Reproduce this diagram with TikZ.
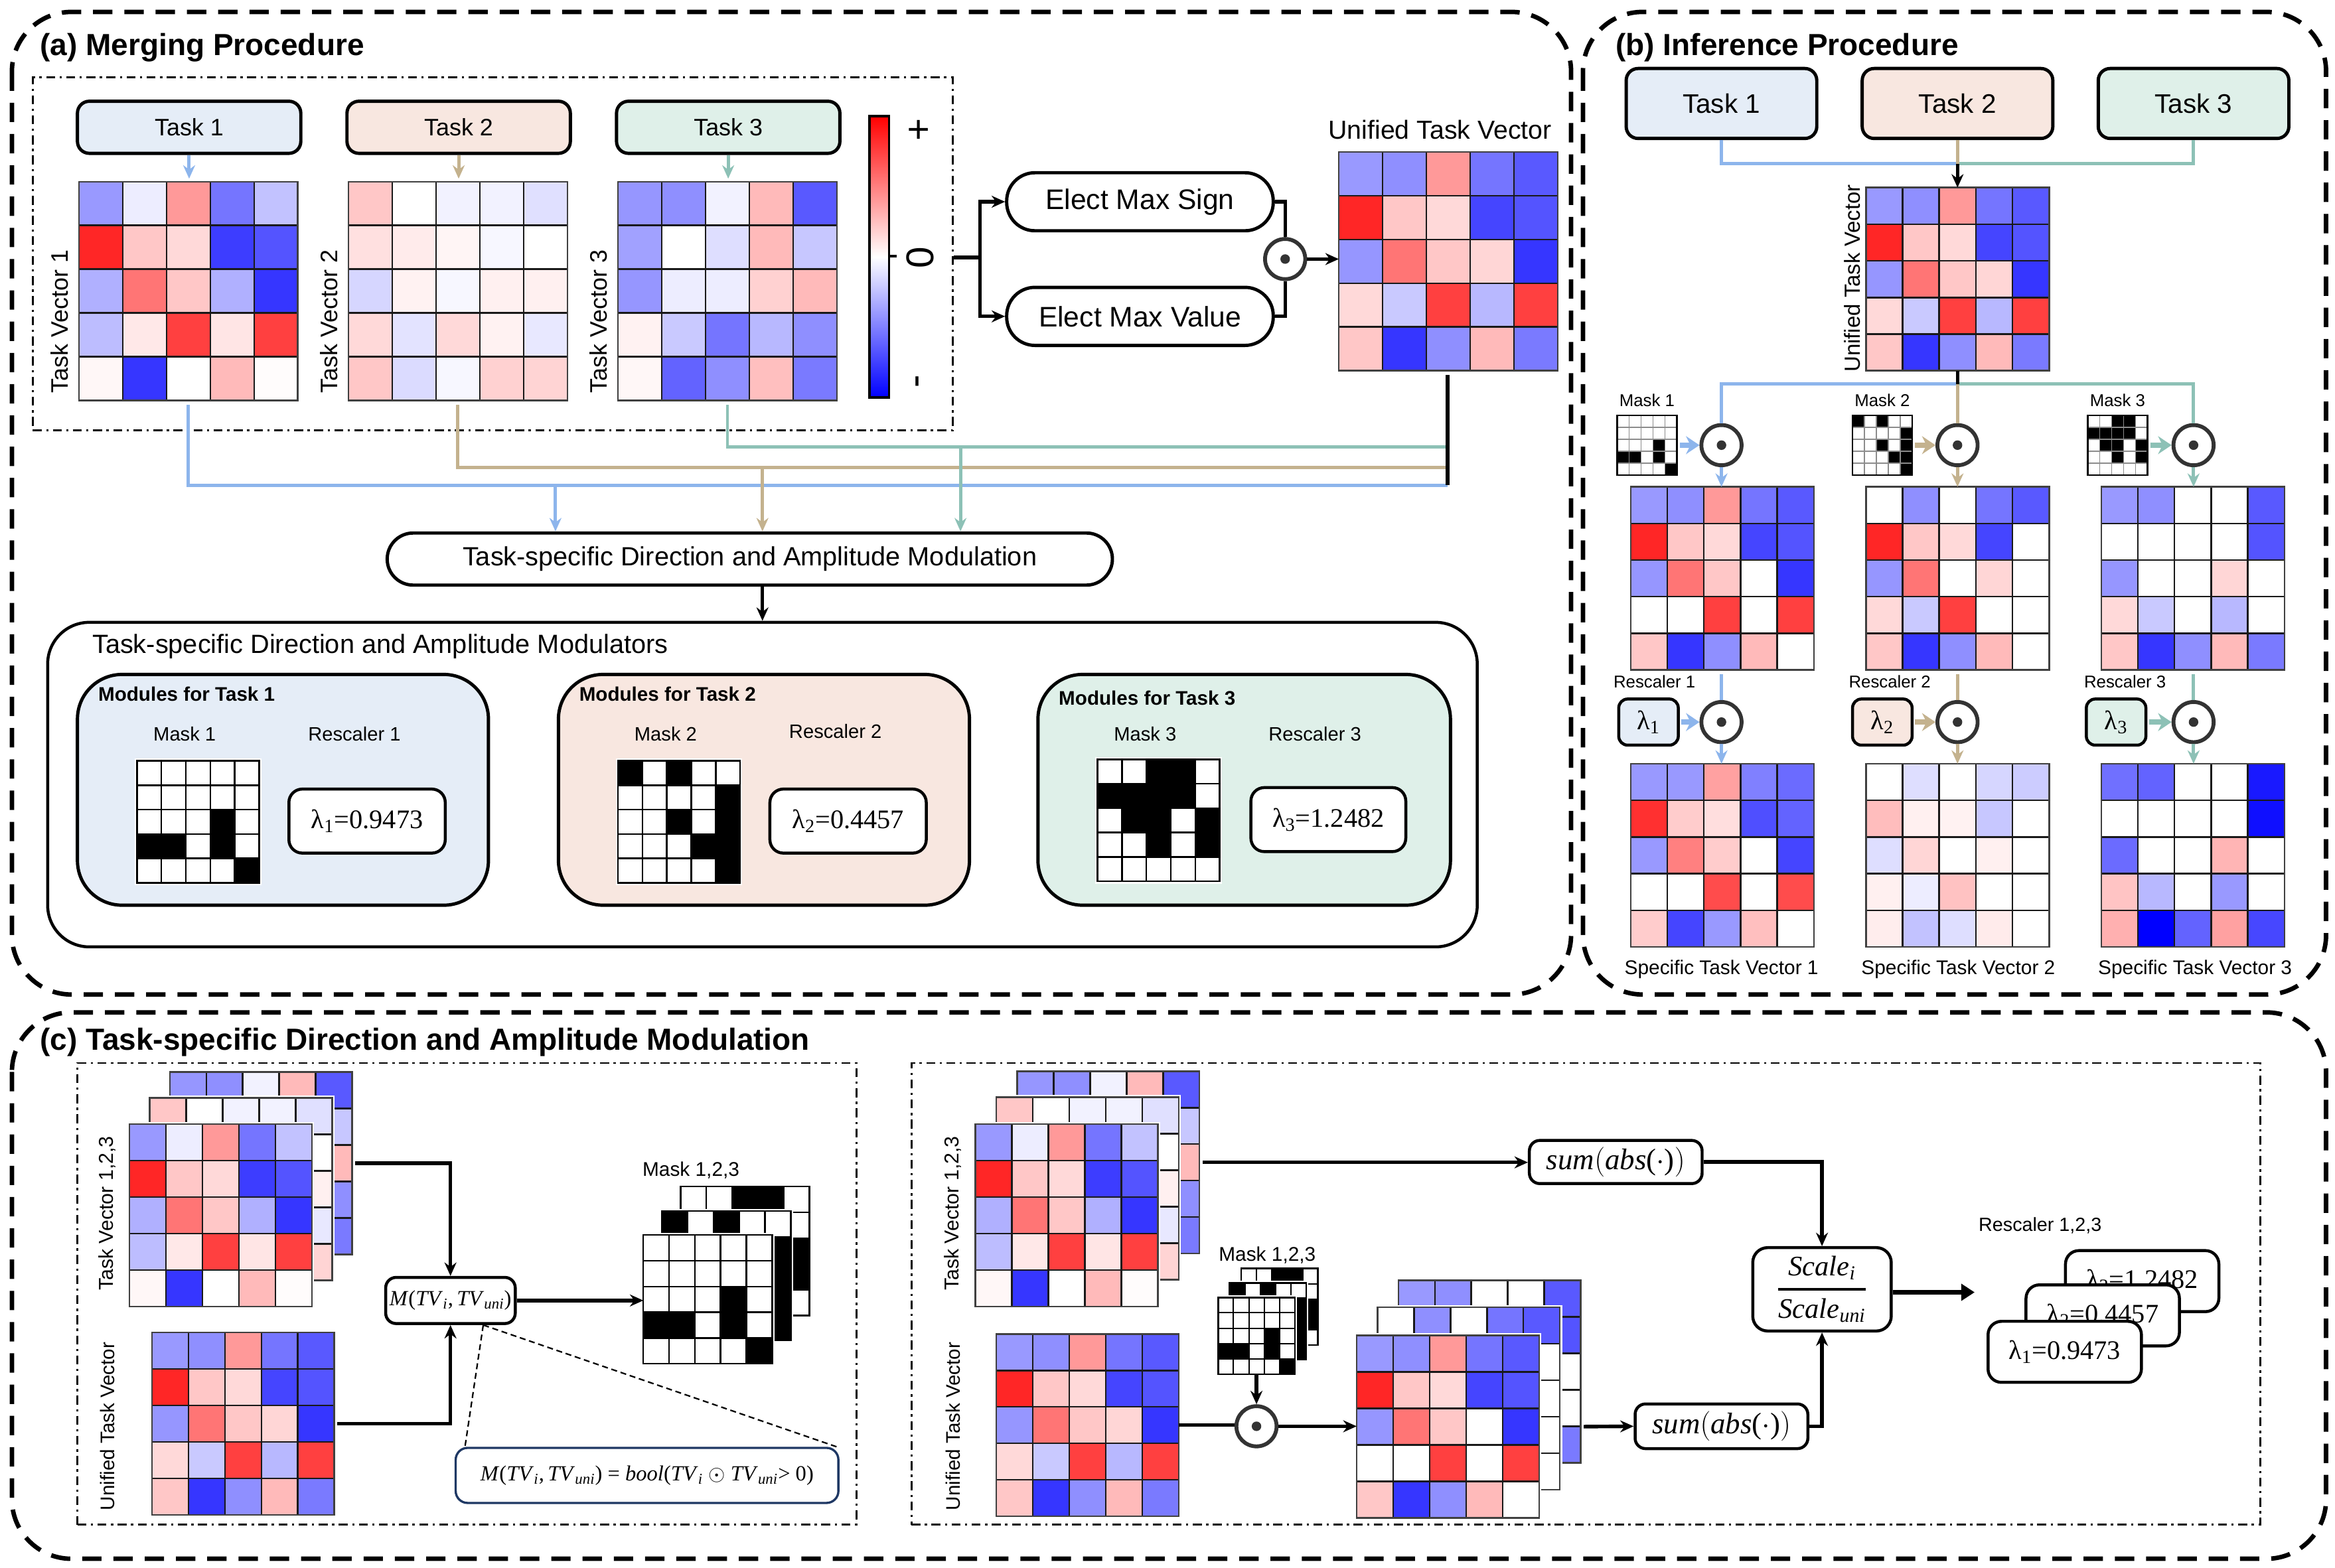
\RequirePackage{fix-cm}
\documentclass[tikz,border=0pt]{standalone}
\usepackage[no-math]{fontspec}
\setmainfont{Liberation Sans}
\newfontfamily\lserif{Liberation Serif}
\usetikzlibrary{arrows.meta,calc}

\definecolor{lnblue}{RGB}{141,181,236}
\definecolor{lntan}{RGB}{196,178,142}
\definecolor{lnteal}{RGB}{141,193,182}
\definecolor{fblue}{RGB}{229,237,247}
\definecolor{fpeach}{RGB}{248,231,224}
\definecolor{fmint}{RGB}{223,240,233}
\definecolor{navy}{RGB}{31,56,100}
\definecolor{odgray}{RGB}{51,51,51}

\newcommand{\fsz}[1]{\fontsize{#1}{#1}\selectfont}
\newcommand{\vi}[1]{\textit{#1}}
\newcommand{\MTV}{\vi{M}(\vi{TV}\textsubscript{\vi{i}},\,\vi{TV}\textsubscript{\vi{uni}})}
\newcommand{\SUMABS}{\vi{sum}$\big($\vi{abs}($\cdot$)$\big)$}

% data
\newcommand{\DTVa}{-40,-7,40,-54,-24,85,22,15,-76,-67,-31,54,22,-31,-79,-26,9,75,10,75,3,-79,0,27,1}
\newcommand{\DTVb}{22,0,-5,-5,-12,12,8,4,-3,0,-16,5,-3,6,6,15,-11,15,5,-9,22,-14,-3,18,17}
\newcommand{\DTVc}{-41,-44,-5,27,-65,-37,0,-13,27,-22,-41,-7,-7,18,27,5,-21,-54,-28,-44,3,-61,-44,25,-52}
\newcommand{\DUNI}{-40,-44,40,-54,-65,85,22,15,-73,-67,-41,54,22,16,-79,15,-21,75,-28,75,22,-79,-44,27,-52}
\newcommand{\DRa}{-40,-44,40,-54,-65,85,22,15,-73,-67,-41,54,22,0,-79,0,0,75,0,75,22,-79,-44,27,0}
\newcommand{\DRb}{0,-44,0,-54,-65,85,22,15,-73,0,-41,54,0,16,0,15,-21,75,0,0,22,-79,-44,27,0}
\newcommand{\DRc}{-40,-44,0,0,-65,0,0,0,0,-67,-41,0,0,16,0,15,-21,0,-28,0,22,-79,-44,27,-52}
\newcommand{\DFa}{-40,-40,37,-50,-58,81,20,13,-69,-61,-40,50,20,0,-73,0,0,70,0,70,20,-73,-40,25,0}
\newcommand{\DFb}{0,-13,0,-16,-20,26,6,5,-22,0,-13,16,0,6,0,6,-7,24,0,0,7,-24,-13,8,0}
\newcommand{\DFc}{-56,-61,0,0,-90,0,0,0,0,-94,-58,0,0,29,0,23,-28,0,-40,0,31,-100,-61,37,-72}
\newcommand{\DMa}{0,0,0,0,0,0,0,0,0,0,0,0,0,1,0,1,1,0,1,0,0,0,0,0,1}
\newcommand{\DMb}{1,0,1,0,0,0,0,0,0,1,0,0,1,0,1,0,0,0,1,1,0,0,0,0,1}
\newcommand{\DMc}{0,0,1,1,0,1,1,1,1,0,0,1,1,0,1,0,0,1,0,1,0,0,0,0,0}

% heatmap: name, left, top, cell, data macro
\newcommand{\heat}[5]{%
  \fill[white] ({#2-1.5},{#3-1.5}) rectangle ({#2+5*#4+1.5},{#3+5*#4+1.5});
  \foreach \v [count=\k from 0] in #5 {%
    \pgfmathtruncatemacro\hmr{floor(\k/5)}%
    \pgfmathtruncatemacro\hmc{\k-5*\hmr}%
    \pgfmathtruncatemacro\hma{abs(\v)}%
    \ifnum\v<0 \def\hmhue{blue}\else\def\hmhue{red}\fi
    \fill[\hmhue!\hma!white] ({#2+\hmc*#4},{#3+\hmr*#4}) rectangle +({#4},{#4});
  }
  \foreach \i in {0,...,5}{%
    \draw[cellline] ({#2+\i*#4},{#3}) -- ({#2+\i*#4},{#3+5*#4});
    \draw[cellline] ({#2},{#3+\i*#4}) -- ({#2+5*#4},{#3+\i*#4});
  }
  \node[matbox, minimum width={5*#4pt}, minimum height={5*#4pt}] (#1) at ({#2+2.5*#4},{#3+2.5*#4}) {};
}
% mask: name, left, top, cell, data macro, line style
\newcommand{\maskm}[6]{%
  \fill[white] ({#2-1.5},{#3-1.5}) rectangle ({#2+5*#4+1.5},{#3+5*#4+1.5});
  \foreach \v [count=\k from 0] in #5 {%
    \pgfmathtruncatemacro\hmr{floor(\k/5)}%
    \pgfmathtruncatemacro\hmc{\k-5*\hmr}%
    \ifnum\v=1 \fill[black] ({#2+\hmc*#4},{#3+\hmr*#4}) rectangle +({#4},{#4});\fi
  }
  \foreach \i in {0,...,5}{%
    \draw[#6] ({#2+\i*#4},{#3}) -- ({#2+\i*#4},{#3+5*#4});
    \draw[#6] ({#2},{#3+\i*#4}) -- ({#2+5*#4},{#3+\i*#4});
  }
  \node[matbox, draw=black, minimum width={5*#4pt}, minimum height={5*#4pt}] (#1) at ({#2+2.5*#4},{#3+2.5*#4}) {};
}

\tikzset{
 cellline/.style={line width=1.1pt, draw=black!90},
 matbox/.style={draw=black!75, line width=1.1pt, inner sep=0pt, outer sep=0pt},
 panel/.style={draw, line width=3pt, dash pattern=on 13pt off 8pt, rounded corners=40pt},
 dashdot/.style={draw, line width=1.3pt, dash pattern=on 6pt off 3pt on 1.5pt off 3pt, inner sep=0pt},
 tbox/.style={draw, line width=2.2pt, rounded corners=8pt, inner sep=0pt},
 pill/.style={draw, line width=2.2pt, rounded corners=19pt, inner sep=0pt, fill=white},
 modbox/.style={draw, line width=2.2pt, rounded corners=28pt, inner sep=0pt},
 lbox/.style={draw, line width=2pt, rounded corners=9pt, fill=white, inner sep=0pt},
 odot/.style={circle, draw=odgray, line width=2.6pt, minimum size=27pt, inner sep=0pt, fill=white,
   path picture={\fill[odgray] (path picture bounding box.center) circle (3.2pt);}},
 blk/.style={draw=black, line width=2.4pt},
 cB/.style={draw=lnblue, line width=2.2pt},
 cT/.style={draw=lntan, line width=2.2pt},
 cG/.style={draw=lnteal, line width=2.2pt},
 arw/.style={-{Stealth[length=9pt,width=8pt]}},
 thickarw/.style={-{Stealth[length=9pt,width=12pt]}, line width=3.5pt},
 lab/.style={inner sep=0pt, outer sep=0pt},
}

\begin{document}
\begin{tikzpicture}[x=1pt,y=-1pt]
\useasboundingbox (0,0) rectangle (1568,1053);

% ===== panel frames
\draw[panel] (8,8) rectangle (1055,668);
\draw[panel] (1063,8) rectangle (1562,668);
\draw[panel] (8,680) rectangle (1562,1047);

% ===== (a)
\node[lab,anchor=west,font=\fsz{20.5}\bfseries] (ttlA) at (27,32) {(a) Merging Procedure};
\node[dashdot, minimum width=618pt, minimum height=237pt] (grpA) at (331,170.5) {};

\node[tbox,fill=fblue,minimum width=150pt,minimum height=35pt,font=\fsz{16}] (t1a) at (127,85.5) {Task 1};
\node[tbox,fill=fpeach,minimum width=150pt,minimum height=35pt,font=\fsz{16}] (t2a) at (308,85.5) {Task 2};
\node[tbox,fill=fmint,minimum width=150pt,minimum height=35pt,font=\fsz{16}] (t3a) at (489,85.5) {Task 3};

\heat{tv1}{53}{122}{29.4}{\DTVa}
\heat{tv2}{234}{122}{29.4}{\DTVb}
\heat{tv3}{415}{122}{29.4}{\DTVc}

\draw[cB,arw,shorten >=2pt] (t1a.south) -- (t1a.south |- tv1.north);
\draw[cT,arw,shorten >=2pt] (t2a.south) -- (t2a.south |- tv2.north);
\draw[cG,arw,shorten >=2pt] (t3a.south) -- (t3a.south |- tv3.north);

\node[lab,rotate=90,font=\fsz{16}] (tv1l) at (40,216) {Task Vector 1};
\node[lab,rotate=90,font=\fsz{16}] (tv2l) at (221,216) {Task Vector 2};
\node[lab,rotate=90,font=\fsz{16}] (tv3l) at (402,216) {Task Vector 3};

% colorbar
\shade[top color=red, bottom color=blue, middle color=white] (584,78) rectangle (597,267);
\node[draw, line width=1.6pt, minimum width=13pt, minimum height=189pt, inner sep=0pt] (cbar) at (590.5,172.5) {};
\draw[line width=1.6pt] (597,172) -- (602,172);
\node[lab,rotate=90,font=\fsz{26}] (cbp) at (618,87) {+};
\node[lab,rotate=90,font=\fsz{26}] (cb0) at (618,173) {0};
\node[lab,rotate=90,font=\fsz{26}] (cbm) at (619,256) {-};

% elect
\coordinate (spl) at (658,173);
\node[pill,minimum width=179pt,minimum height=39pt,font=\fsz{19}] (sign) at (765.5,135.5) {Elect Max Sign};
\node[pill,minimum width=179pt,minimum height=39pt,font=\fsz{19}] (value) at (765.5,212.5) {Elect Max Value};
\draw[blk] (grpA.east |- spl) -- (spl);
\draw[blk,arw] (spl) |- (sign.west);
\draw[blk,arw] (spl) |- (value.west);
\node[odot] (odA) at (863,174) {};
\draw[blk] (sign.east) -| (odA.north);
\draw[blk] (value.east) -| (odA.south);
\heat{uniA}{899}{102}{29.4}{\DUNI}
\draw[blk,arw] (odA.east) -- (odA.east -| uniA.west);
\node[lab,font=\fsz{17.5}] (uniAl) at (967,87) {Unified Task Vector};

% routing to modulation
\node[pill,rounded corners=17.5pt,minimum width=487pt,minimum height=35pt,font=\fsz{17.7}] (modproc) at (503.5,375.5) {Task-specific Direction and Amplitude Modulation};
\coordinate (jG) at (972,300);
\coordinate (jT) at (972,314);
\coordinate (jB) at (972,326);
\draw[cB,shorten <=3pt] (tv1.south) |- (jB);
\draw[cT,shorten <=3pt] (tv2.south) |- (jT);
\draw[cG,shorten <=3pt] (tv3.south) |- (jG);
\draw[blk,shorten <=3pt] (uniA.south -| jB) -- (jB);
\coordinate (aB) at (373,326);
\coordinate (aT) at (512,314);
\coordinate (aG) at (645,300);
\draw[cB,arw] (aB) -- (aB |- modproc.north);
\draw[cT,arw] (aT) -- (aT |- modproc.north);
\draw[cG,arw] (aG) -- (aG |- modproc.north);

% modulators
\node[modbox, line width=2pt, minimum width=960pt, minimum height=218pt] (modr) at (512,527) {};
\draw[blk,arw] (modproc.south -| modr.north) -- (modr.north);
\node[lab,anchor=west,font=\fsz{17.7}] (modrl) at (62,434) {Task-specific Direction and Amplitude Modulators};

\node[modbox, rounded corners=30pt, fill=fblue, minimum width=276pt, minimum height=155pt] (md1) at (190,530.5) {};
\node[modbox, rounded corners=30pt, fill=fpeach, minimum width=276pt, minimum height=155pt] (md2) at (513,530.5) {};
\node[modbox, rounded corners=30pt, fill=fmint, minimum width=277pt, minimum height=155pt] (md3) at (835.5,530.5) {};

\node[lab,anchor=west,font=\fsz{13.2}\bfseries] (md1t) at (66,466) {Modules for Task 1};
\node[lab,anchor=west,font=\fsz{13.2}\bfseries] (md2t) at (389,466) {Modules for Task 2};
\node[lab,anchor=west,font=\fsz{13.2}\bfseries] (md3t) at (711,469) {Modules for Task 3};

\node[lab,font=\fsz{13}] (mk1al) at (124,493) {Mask 1};
\node[lab,font=\fsz{13}] (rs1al) at (238,493) {Rescaler 1};
\node[lab,font=\fsz{13}] (mk2al) at (447,493) {Mask 2};
\node[lab,font=\fsz{13}] (rs2al) at (561,491) {Rescaler 2};
\node[lab,font=\fsz{13}] (mk3al) at (769,493) {Mask 3};
\node[lab,font=\fsz{13}] (rs3al) at (883,493) {Rescaler 3};

\maskm{mk1a}{92}{511}{16.4}{\DMa}{line width=1.1pt,draw=black}
\maskm{mk2a}{415}{511}{16.4}{\DMb}{line width=1.1pt,draw=black}
\maskm{mk3a}{737}{510}{16.4}{\DMc}{line width=1.1pt,draw=black}

\node[lbox,minimum width=105pt,minimum height=43pt,font=\lserif\fsz{18}] (lam1a) at (246.5,551.5) {λ\textsubscript{1}=0.9473};
\node[lbox,minimum width=105pt,minimum height=43pt,font=\lserif\fsz{18}] (lam2a) at (569.5,551.5) {λ\textsubscript{2}=0.4457};
\node[lbox,minimum width=104pt,minimum height=43pt,font=\lserif\fsz{18}] (lam3a) at (892,550.5) {λ\textsubscript{3}=1.2482};

% ===== (b)
\node[lab,anchor=west,font=\fsz{20.5}\bfseries] (ttlB) at (1085,32) {(b) Inference Procedure};
\node[tbox,fill=fblue,minimum width=128pt,minimum height=47pt,font=\fsz{18}] (t1b) at (1156,69.5) {Task 1};
\node[tbox,fill=fpeach,minimum width=128pt,minimum height=47pt,font=\fsz{18}] (t2b) at (1314.5,69.5) {Task 2};
\node[tbox,fill=fmint,minimum width=128pt,minimum height=47pt,font=\fsz{18}] (t3b) at (1473,69.5) {Task 3};

\heat{unib}{1253}{126}{24.6}{\DUNI}
\coordinate (jb1) at (1314.5,110);
\draw[cB] (t1b.south) |- (jb1);
\draw[cG] (t3b.south) |- (jb1);
\draw[cT] (t2b.south) -- (jb1);
\draw[blk,line width=2pt,arw] (jb1) -- (unib.north);
\node[lab,rotate=90,font=\fsz{14.7}] (unibl) at (1244,187) {Unified Task Vector};

\coordinate (jb2) at (1314.5,258);
\node[odot] (o1) at (1156,299) {};
\node[odot] (o2) at (1314.5,299) {};
\node[odot] (o3) at (1473,299) {};
\draw[cB] (jb2) -| (o1.north);
\draw[cG] (jb2) -| (o3.north);
\draw[cT] (jb2) -- (o2.north);
\draw[blk,line width=2pt] (unib.south) -- (jb2);

\node[lab,font=\fsz{11.5}] (mk1bl) at (1106,269) {Mask 1};
\node[lab,font=\fsz{11.5}] (mk2bl) at (1264,269) {Mask 2};
\node[lab,font=\fsz{11.5}] (mk3bl) at (1422,269) {Mask 3};
\maskm{mk1b}{1086}{279}{8}{\DMa}{line width=0.8pt,draw=black!45}
\maskm{mk2b}{1244}{279}{8}{\DMb}{line width=0.8pt,draw=black!45}
\maskm{mk3b}{1402}{279}{8}{\DMc}{line width=0.8pt,draw=black!45}
\draw[cB,thickarw,shorten <=2pt] (mk1b.east) -- (o1.west);
\draw[cT,thickarw,shorten <=2pt] (mk2b.east) -- (o2.west);
\draw[cG,thickarw,shorten <=2pt] (mk3b.east) -- (o3.west);

\heat{r1}{1095}{327}{24.6}{\DRa}
\heat{r2}{1253}{327}{24.6}{\DRb}
\heat{r3}{1411}{327}{24.6}{\DRc}
\draw[cB,arw] (o1.south) -- (o1.south |- r1.north);
\draw[cT,arw] (o2.south) -- (o2.south |- r2.north);
\draw[cG,arw] (o3.south) -- (o3.south |- r3.north);

\node[lab,font=\fsz{11.5}] (rs1bl) at (1111,458) {Rescaler 1};
\node[lab,font=\fsz{11.5}] (rs2bl) at (1269,458) {Rescaler 2};
\node[lab,font=\fsz{11.5}] (rs3bl) at (1427,458) {Rescaler 3};

\node[odot] (p1) at (1156,485) {};
\node[odot] (p2) at (1314.5,485) {};
\node[odot] (p3) at (1473,485) {};
\node[lbox,fill=fblue,rounded corners=6pt,minimum width=40pt,minimum height=31pt,font=\lserif\fsz{18}] (l1b) at (1107,485) {λ\textsubscript{1}};
\node[lbox,fill=fpeach,rounded corners=6pt,minimum width=40pt,minimum height=31pt,font=\lserif\fsz{18}] (l2b) at (1264,485) {λ\textsubscript{2}};
\node[lbox,fill=fmint,rounded corners=6pt,minimum width=40pt,minimum height=31pt,font=\lserif\fsz{18}] (l3b) at (1421,485) {λ\textsubscript{3}};
\draw[cB,shorten <=3pt] (p1.north |- r1.south) -- (p1.north);
\draw[cT,shorten <=3pt] (p2.north |- r2.south) -- (p2.north);
\draw[cG,shorten <=3pt] (p3.north |- r3.south) -- (p3.north);
\draw[cB,thickarw,shorten <=1pt] (l1b.east) -- (p1.west);
\draw[cT,thickarw,shorten <=1pt] (l2b.east) -- (p2.west);
\draw[cG,thickarw,shorten <=1pt] (l3b.east) -- (p3.west);

\heat{f1}{1095}{513}{24.6}{\DFa}
\heat{f2}{1253}{513}{24.6}{\DFb}
\heat{f3}{1411}{513}{24.6}{\DFc}
\draw[cB,arw] (p1.south) -- (p1.south |- f1.north);
\draw[cT,arw] (p2.south) -- (p2.south |- f2.north);
\draw[cG,arw] (p3.south) -- (p3.south |- f3.north);

\node[lab,font=\fsz{13.3}] (f1l) at (1156,651) {Specific Task Vector 1};
\node[lab,font=\fsz{13.3}] (f2l) at (1315,651) {Specific Task Vector 2};
\node[lab,font=\fsz{13.3}] (f3l) at (1474,651) {Specific Task Vector 3};

% ===== (c)
\node[lab,anchor=west,font=\fsz{20.5}\bfseries] (ttlC) at (27,700) {(c) Task-specific Direction and Amplitude Modulation};
\node[dashdot, minimum width=523pt, minimum height=310pt] (grpCL) at (313.5,869) {};
\node[dashdot, minimum width=906pt, minimum height=310pt] (grpCR) at (1065,869) {};

% left
\heat{cl3}{114}{720}{24.5}{\DTVc}
\heat{cl2}{100.5}{737.5}{24.5}{\DTVb}
\heat{cl1}{87}{755}{24.5}{\DTVa}
\heat{clu}{102}{895}{24.5}{\DUNI}
\node[lab,rotate=90,font=\fsz{13.5}] (cl1l) at (72,815) {Task Vector 1,2,3};
\node[lab,rotate=90,font=\fsz{13.2}] (clul) at (72,958) {Unified Task Vector};

\node[lbox,rounded corners=7pt,minimum width=87pt,minimum height=31pt,font=\lserif\fsz{14.5}] (mbox) at (302.5,873.5) {\MTV};
\draw[blk,arw,shorten <=2pt] (cl3.east) -| (mbox.north);
\draw[blk,arw,shorten <=2pt] (clu.east) -| (mbox.south);

\maskm{cm3}{457}{797}{17.3}{\DMc}{line width=1.1pt,draw=black}
\maskm{cm2}{444.5}{813.5}{17.3}{\DMb}{line width=1.1pt,draw=black}
\maskm{cm1}{432}{829.5}{17.3}{\DMa}{line width=1.1pt,draw=black}
\node[lab,font=\fsz{13.3}] (cmlab) at (464,786) {Mask 1,2,3};
\draw[blk,arw] (mbox.east) -- (mbox.east -| cm1.west);

\node[draw=navy,line width=1.5pt,rounded corners=8pt,minimum width=257pt,minimum height=37pt,inner sep=0pt,font=\lserif\fsz{14.5}] (formula) at (434.5,991) {\MTV{} = \vi{bool}(\vi{TV}\textsubscript{\vi{i}} $\odot$ \vi{TV}\textsubscript{\vi{uni}}> 0)};
\coordinate (mfoot) at ($(mbox.south)+(22,0)$);
\draw[line width=1pt,dash pattern=on 4pt off 2.5pt] (mfoot) -- ([xshift=7pt]formula.north west);
\draw[line width=1pt,dash pattern=on 4pt off 2.5pt] (mfoot) -- ([xshift=-2pt]formula.north east);

% right
\heat{cr3}{683}{719.5}{24.5}{\DTVc}
\heat{cr2}{669}{737}{24.5}{\DTVb}
\heat{cr1}{655}{755}{24.5}{\DTVa}
\heat{cru}{669}{896}{24.5}{\DUNI}
\node[lab,rotate=90,font=\fsz{13.5}] (cr1l) at (640,815) {Task Vector 1,2,3};
\node[lab,rotate=90,font=\fsz{13.2}] (crul) at (640,958) {Unified Task Vector};

\node[lbox,rounded corners=7pt,minimum width=116pt,minimum height=29pt,font=\lserif\fsz{20}] (sum1) at (1085,780.5) {\SUMABS};
\draw[blk,arw,shorten <=2pt] (cr3.east) -- (cr3.east -| sum1.west);

\maskm{sm3}{833.5}{852}{10.3}{\DMc}{line width=0.9pt,draw=black}
\maskm{sm2}{825.7}{861.7}{10.3}{\DMb}{line width=0.9pt,draw=black}
\maskm{sm1}{818}{871.5}{10.3}{\DMa}{line width=0.9pt,draw=black}
\node[lab,font=\fsz{13.3}] (smlab) at (851,843) {Mask 1,2,3};

\node[odot] (oc) at (843.75,958) {};
\draw[blk,arw] (sm1.south) -- (oc.north);
\draw[blk] (cru.east) -- (cru.east -| oc.west);

\heat{ms3}{939}{860}{24.5}{\DRc}
\heat{ms2}{925}{878}{24.5}{\DRb}
\heat{ms1}{911}{897}{24.5}{\DRa}
\draw[blk,arw] (oc.east) -- (oc.east -| ms1.west);

\node[lbox,rounded corners=7pt,minimum width=116pt,minimum height=30pt,font=\lserif\fsz{20}] (sum2) at (1156,958) {\SUMABS};
\draw[blk,arw,shorten <=2pt] (ms1.east -| ms3.east) -- (sum2.west);

\node[lbox,rounded corners=10pt,minimum width=93pt,minimum height=56pt,font=\lserif\fsz{19}] (scl) at (1223.5,866) {$\displaystyle{\mbox{\vi{Scale}\textsubscript{\vi{i}}}\above 1.8pt\mbox{\vi{Scale}\textsubscript{\vi{uni}}}}$};
\draw[blk,arw] (sum1.east) -| (scl.north);
\draw[blk,arw] (sum2.east) -| (scl.south);
\coordinate (sclend) at (1326,868);
\draw[blk,line width=3pt,-{Triangle[length=9pt,width=11pt]}] (scl.east |- sclend) -- (sclend);

\node[lab,font=\fsz{12.8}] (rslab) at (1370,823) {Rescaler 1,2,3};
\node[lbox,minimum width=103pt,minimum height=41pt,font=\lserif\fsz{18}] (lc3) at (1438.5,860.5) {λ\textsubscript{3}=1.2482};
\node[lbox,minimum width=103pt,minimum height=41pt,font=\lserif\fsz{18}] (lc2) at (1412,883.5) {λ\textsubscript{2}=0.4457};
\node[lbox,minimum width=103pt,minimum height=41pt,font=\lserif\fsz{18}] (lc1) at (1386.5,908) {λ\textsubscript{1}=0.9473};

\end{tikzpicture}
\end{document}
